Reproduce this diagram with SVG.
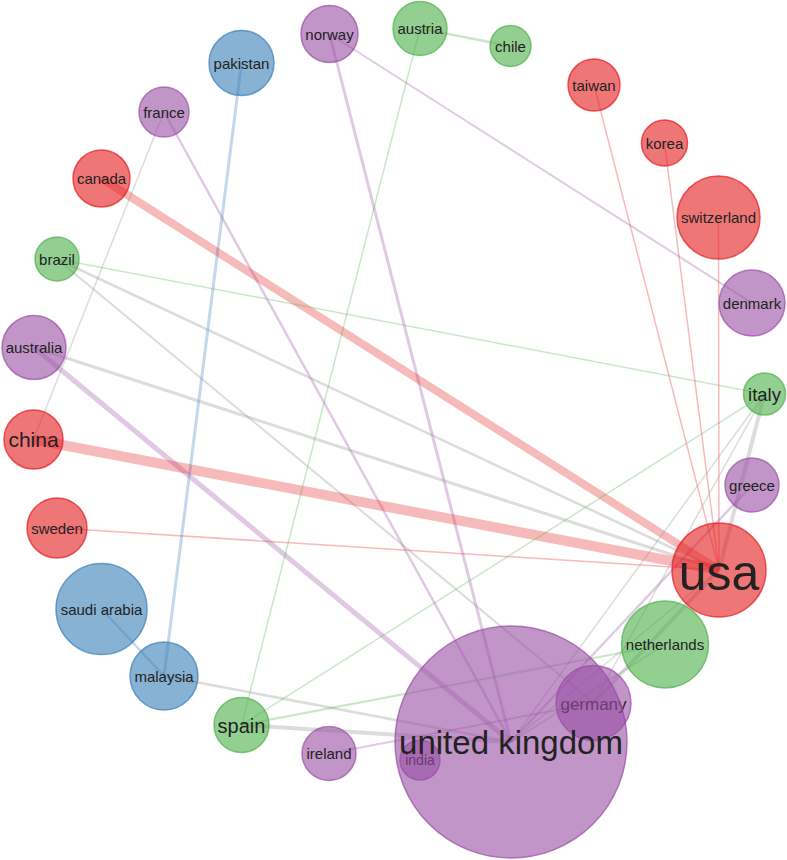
<svg xmlns="http://www.w3.org/2000/svg" width="787" height="860" viewBox="0 0 787 860">
<style>
.e{fill:none;stroke-linecap:butt;stroke-opacity:0.3}
.er{stroke:#e41a1c}.eb{stroke:#377eb8}.eg{stroke:#4daf4a}.ep{stroke:#984ea3}.ex{stroke:#8a8a8a}
circle{fill-opacity:0.6;stroke-opacity:0.7;stroke-width:1.5}
.r{fill:#e41a1c;stroke:#e41a1c}.b{fill:#377eb8;stroke:#377eb8}.g{fill:#4daf4a;stroke:#4daf4a}.p{fill:#984ea3;stroke:#984ea3}
text{font-family:"Liberation Sans",Arial,Helvetica,sans-serif;font-size:15px;fill:#222;text-anchor:middle}
</style>
<rect width="787" height="860" fill="#fff"/>
<g id="connectors">
<line class="e eg" x1="420" y1="28.5" x2="510.5" y2="46" stroke-width="2.5"/>
<line class="e eg" x1="420" y1="28.5" x2="241.5" y2="725" stroke-width="1.5"/>
<line class="e ep" x1="329.5" y1="34" x2="752" y2="303" stroke-width="2"/>
<line class="e ep" x1="329.5" y1="34" x2="511" y2="742" stroke-width="3"/>
<line class="e eb" x1="241.5" y1="63" x2="164" y2="676" stroke-width="3"/>
<line class="e ep" x1="164" y1="112" x2="511" y2="742" stroke-width="2.5"/>
<line class="e ex" x1="164" y1="112" x2="33.5" y2="439.5" stroke-width="1.5"/>
<line class="e er" x1="101.5" y1="178.5" x2="719" y2="570" stroke-width="8"/>
<line class="e eg" x1="57" y1="259" x2="764.5" y2="394" stroke-width="1.5"/>
<line class="e ex" x1="57" y1="259" x2="719" y2="570" stroke-width="2.5"/>
<line class="e ex" x1="57" y1="259" x2="593.5" y2="703" stroke-width="2"/>
<line class="e ep" x1="34" y1="347.5" x2="511" y2="742" stroke-width="5"/>
<line class="e ex" x1="34" y1="347.5" x2="719" y2="570" stroke-width="3"/>
<line class="e er" x1="33.5" y1="439.5" x2="719" y2="570" stroke-width="10"/>
<line class="e er" x1="57" y1="528" x2="719" y2="570" stroke-width="1.5"/>
<line class="e eb" x1="101.5" y1="609" x2="164" y2="676" stroke-width="2.5"/>
<line class="e ex" x1="164" y1="676" x2="511" y2="742" stroke-width="2.5"/>
<line class="e eg" x1="241.5" y1="725" x2="764.5" y2="394" stroke-width="1.5"/>
<line class="e eg" x1="241.5" y1="725" x2="665" y2="644.5" stroke-width="2"/>
<line class="e ex" x1="241.5" y1="725" x2="511" y2="742" stroke-width="4"/>
<line class="e ep" x1="329" y1="753.5" x2="593.5" y2="703" stroke-width="2"/>
<line class="e er" x1="594" y1="85" x2="719" y2="570" stroke-width="1.5"/>
<line class="e er" x1="664.5" y1="143" x2="719" y2="570" stroke-width="1.5"/>
<line class="e er" x1="718.5" y1="217.5" x2="719" y2="570" stroke-width="1.5"/>
<line class="e ex" x1="764.5" y1="394" x2="719" y2="570" stroke-width="4"/>
<line class="e ex" x1="764.5" y1="394" x2="511" y2="742" stroke-width="1.5"/>
<line class="e ex" x1="764.5" y1="394" x2="593.5" y2="703" stroke-width="1.5"/>
<line class="e ep" x1="752" y1="485" x2="511" y2="742" stroke-width="2.5"/>
<line class="e ex" x1="719" y1="570" x2="593.5" y2="703" stroke-width="4"/>
<line class="e ex" x1="719" y1="570" x2="511" y2="742" stroke-width="1.5"/>
<line class="e ex" x1="665" y1="644.5" x2="511" y2="742" stroke-width="2"/>
</g>
<g id="pakistan"><circle class="b" cx="241.5" cy="63" r="32.5"/><text x="241.5" y="68.5">pakistan</text></g>
<g id="norway"><circle class="p" cx="329.5" cy="34" r="28.5"/><text x="329.5" y="39.5">norway</text></g>
<g id="austria"><circle class="g" cx="420" cy="28.5" r="27"/><text x="420" y="34">austria</text></g>
<g id="chile"><circle class="g" cx="510.5" cy="46" r="20.5"/><text x="510.5" y="51.5">chile</text></g>
<g id="taiwan"><circle class="r" cx="594" cy="85" r="26"/><text x="594" y="90.5">taiwan</text></g>
<g id="korea"><circle class="r" cx="664.5" cy="143" r="23"/><text x="664.5" y="148.5">korea</text></g>
<g id="switzerland"><circle class="r" cx="718.5" cy="217.5" r="41.5"/><text x="718.5" y="223">switzerland</text></g>
<g id="denmark"><circle class="p" cx="752" cy="303" r="33"/><text x="752" y="308.5">denmark</text></g>
<g id="italy"><circle class="g" cx="764.5" cy="394" r="21"/><text x="764.5" y="401" style="font-size:18.5px">italy</text></g>
<g id="greece"><circle class="p" cx="752" cy="485" r="27"/><text x="752" y="490.5">greece</text></g>
<g id="usa"><circle class="r" cx="719" cy="570" r="47"/><text x="719" y="589.5" style="font-size:50px">usa</text></g>
<g id="netherlands"><circle class="g" cx="665" cy="644.5" r="43.5"/><text x="665" y="650">netherlands</text></g>
<g id="germany"><circle class="p" cx="593.5" cy="703" r="37.5"/><text x="593.5" y="709.5" style="font-size:17px">germany</text></g>
<g id="india"><circle class="p" cx="420" cy="760" r="20"/><text x="420" y="765" style="font-size:14px">india</text></g>
<g id="united-kingdom"><circle class="p" cx="511" cy="742" r="116"/><text x="511" y="754" style="font-size:33px">united kingdom</text></g>
<g id="ireland"><circle class="p" cx="329" cy="753.5" r="27"/><text x="329" y="759">ireland</text></g>
<g id="spain"><circle class="g" cx="241.5" cy="725" r="27.5"/><text x="241.5" y="732.5" style="font-size:20px">spain</text></g>
<g id="malaysia"><circle class="b" cx="164" cy="676" r="34"/><text x="164" y="681.5">malaysia</text></g>
<g id="saudi-arabia"><circle class="b" cx="101.5" cy="609" r="45.5"/><text x="101.5" y="614.5">saudi arabia</text></g>
<g id="sweden"><circle class="r" cx="57" cy="528" r="30"/><text x="57" y="533.5">sweden</text></g>
<g id="china"><circle class="r" cx="33.5" cy="439.5" r="29.5"/><text x="33.5" y="447" style="font-size:21px">china</text></g>
<g id="australia"><circle class="p" cx="34" cy="347.5" r="32"/><text x="34" y="353">australia</text></g>
<g id="brazil"><circle class="g" cx="57" cy="259" r="22"/><text x="57" y="264.5">brazil</text></g>
<g id="canada"><circle class="r" cx="101.5" cy="178.5" r="28.5"/><text x="101.5" y="184">canada</text></g>
<g id="france"><circle class="p" cx="164" cy="112" r="25"/><text x="164" y="117.5">france</text></g>
</svg>
